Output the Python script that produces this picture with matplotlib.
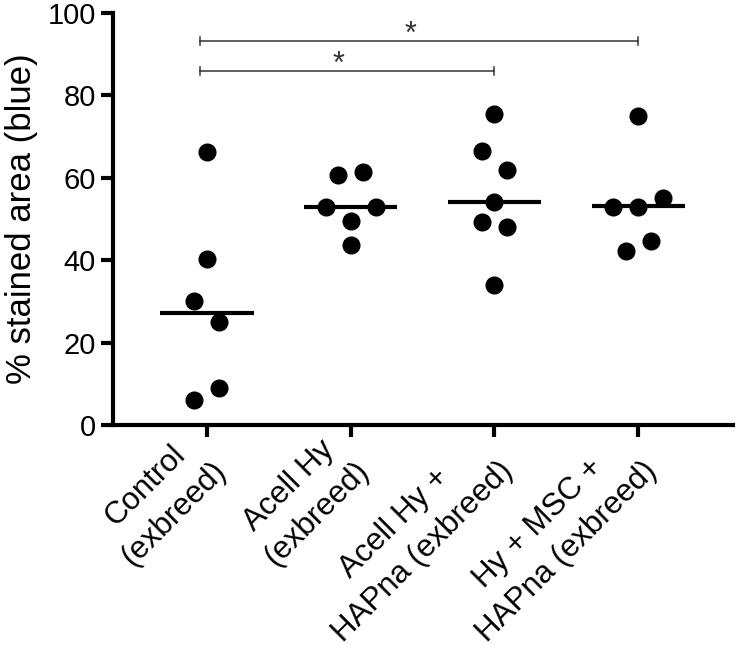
import matplotlib
matplotlib.use("Agg")
import matplotlib.pyplot as plt
import numpy as np

plt.rcParams['font.family'] = ['Liberation Sans', 'DejaVu Sans']

categories = ["Control\n(exbreed)", "Acell Hy\n(exbreed)", "Acell Hy +\nHAPna (exbreed)", "Hy + MSC +\nHAPna (exbreed)"]
values = [
    [66.2, 40.4, 30.0, 25.0, 6.0, 9.0],
    [60.7, 61.5, 53.0, 49.5, 53.0, 43.6],
    [75.6, 66.5, 62.0, 54.2, 49.3, 48.0, 34.0],
    [75.0, 53.0, 53.0, 55.0, 42.2, 44.7],
]
offsets = [
    [0, 0, -1, 1, -1, 1],
    [-1, 1, -2, 0, 2, 0],
    [0, -1, 1, 0, -1, 1, 0],
    [0, -2, 0, 2, -1, 1],
]
medians = [27.3, 53.0, 54.2, 53.2]
brackets = [(0, 2, 86.0), (0, 3, 93.3)]
yticks = [0, 20, 40, 60, 80, 100]

fig = plt.figure(figsize=(7.4, 6.51), dpi=100)
ax = fig.add_axes([0.1527, 0.3472, 0.8378, 0.6328])

for i, (vals, offs) in enumerate(zip(values, offsets)):
    xs = [i + 0.087 * o for o in offs]
    ax.plot(xs, vals, 'o', color='black', markersize=12, linestyle='none', clip_on=False)
    ax.plot([i - 0.324, i + 0.324], [medians[i]] * 2, color='black', lw=3, solid_capstyle='butt')

for a, b, y in brackets:
    a0 = a - 0.05
    ax.plot([a0, b], [y, y], color='#333333', lw=1.1)
    ax.plot([a0, a0], [y - 1.0, y + 1.0], color='#333333', lw=1.1)
    ax.plot([b, b], [y - 1.0, y + 1.0], color='#333333', lw=1.1)
    ax.text((a0 + b) / 2 - 0.06, y + 1.3, '*', ha='center', va='center', fontsize=22, color='#333333')

ax.set_xlim(-0.654, 3.66)
ax.set_ylim(0, 100)
ax.set_yticks(yticks)
ax.set_yticklabels([str(t) for t in yticks], fontsize=21)
ax.set_xticks(range(len(categories)))
ax.set_xticklabels(categories, rotation=45, ha='right', va='center', rotation_mode='anchor',
                   fontsize=22.5, multialignment='center', linespacing=1.42)
ax.set_ylabel('% stained area (blue)', fontsize=25, labelpad=7)

for s in ['top', 'right']:
    ax.spines[s].set_visible(False)
for s in ['left', 'bottom']:
    ax.spines[s].set_linewidth(3)
ax.tick_params(axis='both', width=3, length=8.5, direction='out')
ax.tick_params(axis='x', pad=11)
ax.tick_params(axis='y', pad=4)

fig.savefig('out.png', dpi=100)
